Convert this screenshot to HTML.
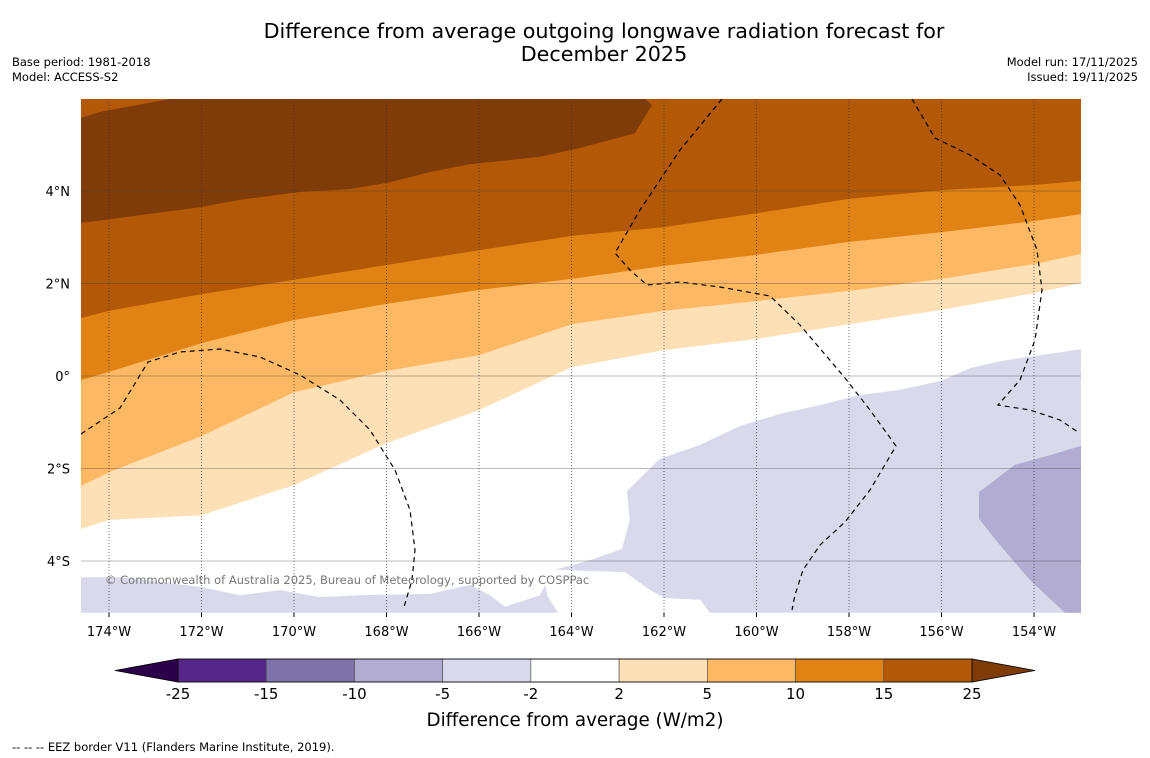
<!DOCTYPE html>
<html><head><meta charset="utf-8"><style>
body{margin:0;background:#fff;}
svg{display:block;font-family:"DejaVu Sans","Liberation Sans",sans-serif;}
</style></head><body>
<svg id="c" width="1150" height="758" viewBox="0 0 1150 758">
<text x="604" y="38" font-size="20.7" text-anchor="middle">Difference from average outgoing longwave radiation forecast for</text>
<text x="604" y="61" font-size="20.7" text-anchor="middle">December 2025</text>
<text x="12" y="66" font-size="11.5">Base period: 1981-2018</text>
<text x="12" y="81" font-size="11.5">Model: ACCESS-S2</text>
<text x="1138" y="66" font-size="11.5" text-anchor="end">Model run: 17/11/2025</text>
<text x="1138" y="81" font-size="11.5" text-anchor="end">Issued: 19/11/2025</text>
<g id="plot"></g>
<g id="axes"></g>
<g id="cbar"></g>
<text x="575" y="726" font-size="18.3" text-anchor="middle">Difference from average (W/m2)</text>
<text x="12" y="751" font-size="11.5">--  --  -- EEZ border V11 (Flanders Marine Institute, 2019).</text>
</svg>
<script>
const lonGrid=[-174.61,-174,-172,-170,-168,-166,-164,-162,-160,-158,-156,-154,-152.98];
const lat_15=[1.25,1.41,1.77,2.08,2.40,2.72,3.03,3.22,3.52,3.83,4.02,4.13,4.22];
const lat_10=[-0.09,0.09,0.71,1.21,1.56,1.86,2.10,2.38,2.62,2.90,3.11,3.35,3.50];
const lat_5=[-2.38,-2.08,-1.30,-0.35,0.11,0.45,1.12,1.41,1.62,1.84,2.10,2.42,2.64];
const lat_2=[-3.31,-3.11,-3.01,-2.36,-1.45,-0.74,0.19,0.56,0.80,1.12,1.43,1.79,2.01];
const darkest=[[-174.61,5.58],[-174.19,5.71],[-172.68,5.99],[-162.41,5.99],[-162.26,5.86],[-162.63,5.25],[-163.82,4.93],[-164.68,4.74],[-166.19,4.58],[-167.06,4.41],[-167.92,4.19],[-168.79,4.04],[-169.87,3.98],[-171.17,3.81],[-172.03,3.65],[-173.76,3.42],[-174.61,3.31]];
const lav1=[[-164.36,-4.19],[-163.60,-3.98],[-162.91,-3.74],[-162.74,-3.11],[-162.80,-2.49],[-162.09,-1.79],[-161.22,-1.49],[-160.36,-1.08],[-159.49,-0.82],[-158.63,-0.63],[-157.76,-0.41],[-156.90,-0.30],[-156.03,-0.11],[-155.38,0.17],[-154.74,0.32],[-153.87,0.45],[-152.98,0.58],[-152.98,-5.12],[-161.01,-5.12],[-161.22,-4.84],[-161.98,-4.80],[-162.30,-4.63],[-162.84,-4.24]];
const lav2=[[-174.61,-4.35],[-173.76,-4.35],[-172.03,-4.56],[-171.17,-4.74],[-170.30,-4.63],[-169.44,-4.78],[-168.57,-4.74],[-167.06,-4.71],[-166.19,-4.52],[-165.76,-4.74],[-165.44,-4.99],[-164.68,-4.74],[-164.57,-4.52],[-164.51,-4.78],[-164.29,-5.12],[-174.61,-5.12]];
const lav3=[[-155.19,-2.51],[-154.41,-1.92],[-153.65,-1.71],[-152.98,-1.51],[-152.98,-5.12],[-153.33,-5.12],[-154.09,-4.41],[-154.74,-3.65],[-155.19,-3.09]];
const lonTicks=[-174,-172,-170,-168,-166,-164,-162,-160,-158,-156,-154];
const latTicks=[4,2,0,-2,-4];
const cbLevels=["-25","-15","-10","-5","-2","2","5","10","15","25"];
const cbColors=["#542788","#8073ac","#b2abd2","#d8daeb","#ffffff","#fee0b6","#fdb863","#e08214","#b35806"];

const NS="http://www.w3.org/2000/svg";
const X0=81,X1=1081,Y0=99,Y1=613;
const xs=lon=>109+(lon+174)*46.25;
const ys=lat=>376-lat*46.25;
function mk(tag,attrs,parent){const e=document.createElementNS(NS,tag);for(const k in attrs)e.setAttribute(k,attrs[k]);parent.appendChild(e);return e;}
const plot=document.getElementById('plot');
const clip=mk('clipPath',{id:'pc'},mk('defs',{},plot));
mk('rect',{x:X0,y:Y0,width:X1-X0,height:Y1-Y0},clip);
const g=mk('g',{'clip-path':'url(#pc)'},plot);
let bg=mk('rect',{x:X0,y:Y0,width:X1-X0,height:Y1-Y0,fill:'#fff'},g);


function band(lats,color,name){
  let pts=lonGrid.map((l,i)=>xs(l)+','+ys(lats[i]));
  pts.push(X1+','+Y0,X0+','+Y0);
  const p=mk('polygon',{points:pts.join(' '),fill:color},g);
  
  
}
band(lat_2,'#fee0b6','band-2-to-5');
band(lat_5,'#fdb863','band-5-to-10');
band(lat_10,'#e08214','band-10-to-15');
band(lat_15,'#b35806','band-15-to-25');
function poly(arr,color,name){
  const p=mk('polygon',{points:arr.map(d=>xs(d[0])+','+ys(d[1])).join(' '),fill:color},g);
  
  
}
poly(darkest,'#7f3b08','band-above-25');
poly(lav1,'#d8daeb','band-minus5-to-minus2-east');
poly(lav2,'#d8daeb','band-minus5-to-minus2-southwest');
poly(lav3,'#b2abd2','band-minus10-to-minus5');
const ax=document.getElementById('axes');
lonTicks.forEach(l=>{
  const ln=mk('line',{x1:xs(l),x2:xs(l),y1:Y0,y2:Y1,stroke:'#333','stroke-width':0.7,'stroke-dasharray':'1,2'},ax);
  
  
  mk('line',{x1:xs(l),x2:xs(l),y1:Y1,y2:Y1+4,stroke:'#000'},ax);
  const t=mk('text',{x:xs(l),y:636,'font-size':13,'text-anchor':'middle'},ax);
  t.textContent=Math.abs(l)+'°W';
  
  
});
latTicks.forEach(l=>{
  const ln=mk('line',{x1:X0,x2:X1,y1:ys(l),y2:ys(l),stroke:'rgba(60,60,60,0.45)','stroke-width':0.8},ax);
  
  
  const t=mk('text',{x:70,y:ys(l)+5,'font-size':13,'text-anchor':'end'},ax);
  t.textContent=l===0?'0°':Math.abs(l)+'°'+(l>0?'N':'S');
  
  
});
const eez=["M81,434 L120,408 L148,362 L180,352 L220,349 L260,357 L300,375 L340,400 L370,430 L395,470 L410,510 L415,550 L412,580 L404,607",
"M722,99 L680,150 L640,210 L615,253 L630,270 L647,285 L680,282 L720,287 L770,296 L800,325 L845,378 L870,410 L896,446 L870,490 L845,522 L820,545 L803,570 L795,595 L792,610",
"M912,99 L935,138 L970,155 L1000,175 L1020,205 L1037,250 L1042,290 L1035,340 L1020,380 L998,405 L1030,410 L1060,420 L1078,432"];
eez.forEach(d=>{const p=mk('path',{d:d,fill:'none',stroke:'#000','stroke-width':1.2,'stroke-dasharray':'5,4'},g);

});
const cp=mk('text',{x:105,y:584,'font-size':11.5,fill:'#777'},g);
cp.textContent='© Commonwealth of Australia 2025, Bureau of Meteorology, supported by COSPPac';


const cb=document.getElementById('cbar');
const cx0=178,cx1=972,cy0=659,cy1=682,cw=(cx1-cx0)/cbColors.length;
const lt=mk('polygon',{points:`${cx0},${cy0} ${cx0},${cy1} 115,670.5`,fill:'#2d004b',stroke:'#000','stroke-width':0.8},cb);


const rt=mk('polygon',{points:`${cx1},${cy0} ${cx1},${cy1} 1035,670.5`,fill:'#7f3b08',stroke:'#000','stroke-width':0.8},cb);


cbColors.forEach((c,i)=>{const r=mk('rect',{x:cx0+i*cw,y:cy0,width:cw,height:cy1-cy0,fill:c,stroke:'#444','stroke-width':0.6},cb);

});
mk('rect',{x:cx0,y:cy0,width:cx1-cx0,height:cy1-cy0,fill:'none',stroke:'#000','stroke-width':0.8},cb);
cbLevels.forEach((s,i)=>{const t=mk('text',{x:cx0+i*cw,y:699,'font-size':15,'text-anchor':'middle'},cb);t.textContent=s;

});
</script>
</body></html>
